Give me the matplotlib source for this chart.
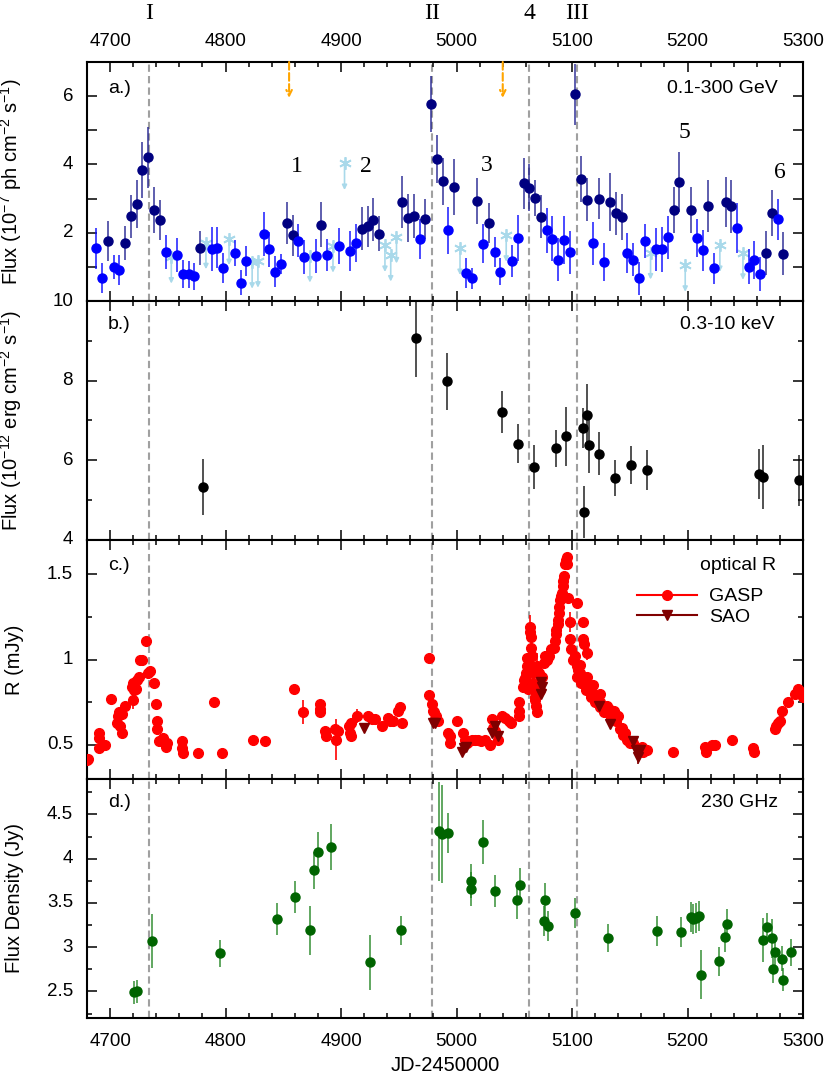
import matplotlib
matplotlib.use('Agg')
import matplotlib.pyplot as plt
from matplotlib.lines import Line2D
from matplotlib.ticker import MultipleLocator
from matplotlib.transforms import ScaledTranslation

plt.rcParams['font.family'] = ['Liberation Sans', 'DejaVu Sans']
plt.rcParams['mathtext.fontset'] = 'custom'
plt.rcParams['mathtext.rm'] = 'Liberation Sans'
plt.rcParams['mathtext.it'] = 'Liberation Sans:italic'

# --- a.) Fermi-LAT 0.1-300 GeV, 5-day bins (n = TS high, b = lower TS)
lat_t = [4688, 4693, 4698, 4703, 4708, 4713, 4718, 4723, 4728, 4733, 4738, 4743, 4748,
         4758, 4763, 4768, 4773, 4778, 4788, 4793, 4798, 4808, 4813, 4818, 4833, 4838,
         4843, 4848, 4853, 4858, 4863, 4868, 4878, 4883, 4888, 4898, 4908, 4913, 4918,
         4923, 4928, 4933, 4953, 4958, 4963, 4968, 4973, 4978, 4983, 4988, 4993, 4998,
         5008, 5013, 5018, 5023, 5028, 5033, 5038, 5048, 5053, 5058, 5063, 5068, 5073,
         5078, 5083, 5088, 5093, 5098, 5103, 5108, 5113, 5118, 5123, 5128, 5133, 5138,
         5143, 5148, 5153, 5158, 5163, 5173, 5178, 5183, 5188, 5193, 5203, 5208, 5213,
         5218, 5223, 5233, 5238, 5243, 5253, 5258, 5263, 5268, 5273, 5278, 5283, 5288]
lat_f = [1.54, 0.67, 1.75, 1.00, 0.92, 1.69, 2.48, 2.85, 3.83, 4.21, 2.66, 2.37, 1.44,
         1.35, 0.78, 0.78, 0.72, 1.56, 1.53, 1.56, 0.98, 1.40, 0.54, 1.17, 1.97, 1.51,
         0.86, 1.09, 2.28, 1.92, 1.77, 1.30, 1.33, 2.24, 1.35, 1.60, 1.46, 1.69, 2.12,
         2.19, 2.38, 1.97, 2.90, 2.43, 2.49, 1.81, 2.41, 5.77, 4.16, 3.50, 2.07, 3.35,
         0.83, 0.66, 2.93, 1.68, 2.28, 1.44, 0.86, 1.17, 1.85, 3.45, 3.32, 3.01, 2.47,
         2.07, 1.83, 1.21, 1.78, 1.43, 6.05, 3.58, 2.97, 1.69, 3.00, 1.14, 2.91, 2.57,
         2.46, 1.41, 1.21, 0.66, 1.75, 1.51, 1.51, 1.87, 2.66, 3.48, 2.66, 1.84, 1.49,
         2.78, 0.96, 2.91, 2.77, 2.15, 1.01, 1.20, 0.80, 1.40, 2.58, 2.40, 1.39, 2.41]
lat_e = [0.60, 0.44, 0.58, 0.36, 0.44, 0.50, 0.63, 0.70, 0.82, 0.90, 0.68, 0.58, 0.50,
         0.50, 0.41, 0.39, 0.39, 0.50, 0.65, 0.60, 0.44, 0.38, 0.36, 0.44, 0.65, 0.52,
         0.45, 0.30, 0.62, 0.60, 0.48, 0.50, 0.50, 0.65, 0.48, 0.53, 0.58, 0.56, 0.62,
         0.60, 0.63, 0.51, 0.75, 0.70, 0.65, 0.58, 0.58, 0.82, 0.70, 0.68, 0.68, 0.82,
         0.44, 0.30, 0.68, 0.58, 0.58, 0.44, 0.40, 0.46, 0.67, 0.75, 0.68, 0.53, 0.63,
         0.65, 0.65, 0.63, 0.70, 0.63, 0.90, 0.68, 0.63, 0.63, 0.60, 0.56, 0.85, 0.63,
         0.68, 0.58, 0.48, 0.48, 0.50, 0.63, 0.65, 0.63, 0.68, 0.87, 0.68, 0.56, 0.60,
         0.75, 0.46, 0.73, 0.78, 0.73, 0.50, 0.56, 0.50, 0.65, 0.68, 0.60, 0.63, 0.70]
lat_kind = ('bbnbbnnnnnnnb' 'bbbbnbbbbbbbb' 'bbnnbbbnbbbbn' 'nnnnnnbnnnnbn'
            'bbnbnbbbbnnnn' 'bbbbbnnnbnbnn' 'nbbbbbbbnnnbb' 'nbnnbbbbnnbn')
ul_t = [4753, 4783, 4803, 4823, 4828, 4873, 4893, 4903, 4938, 4943, 4948, 5003, 5043,
        5168, 5198, 5228, 5248]
ul_f = [1.29, 1.71, 1.83, 1.14, 1.17, 1.32, 1.61, 4.03, 1.63, 1.35, 1.88, 1.54, 1.93,
        1.41, 1.05, 1.63, 1.40]
orange_t = [4855, 5040]

# --- b.) Swift-XRT 0.3-10 keV
xrt_t = [4780.2, 4964.6, 4991.7, 5039.6, 5053.4, 5067.3, 5085.8, 5094.7, 5109.2, 5110.6,
         5112.6, 5114.6, 5123.0, 5137.1, 5151.3, 5164.8, 5261.8, 5265.6, 5296.2]
xrt_f = [5.33, 9.08, 7.98, 7.22, 6.42, 5.84, 6.30, 6.60, 6.81, 4.71,
         7.13, 6.39, 6.17, 5.56, 5.89, 5.75, 5.66, 5.59, 5.50]
xrt_e = [0.70, 1.00, 0.72, 0.53, 0.49, 0.55, 0.46, 0.75, 0.50, 0.65,
         0.78, 0.70, 0.53, 0.45, 0.48, 0.50, 0.62, 0.80, 0.64]

# --- c.) optical R band
gasp_t = [4680.3, 4681.0, 4690.6, 4690.6, 4690.8, 4695.6, 4700.8, 4706.0, 4707.0, 4708.0,
          4709.0, 4710.0, 4710.5, 4712.9, 4718.7, 4719.5, 4720.0, 4721.0, 4722.3, 4723.3,
          4725.0, 4726.0, 4728.0, 4730.8, 4733.0, 4734.5, 4738.3, 4739.5, 4740.3, 4741.0,
          4742.0, 4744.0, 4746.0, 4748.0, 4749.0, 4762.0, 4762.5, 4763.0, 4776.4, 4790.0,
          4797.2, 4823.5, 4834.1, 4859.2, 4866.7, 4881.7, 4881.7, 4881.7, 4886.3, 4887.0,
          4894.8, 4896.0, 4897.3, 4906.8, 4907.5, 4908.2, 4909.0, 4914.0, 4923.5, 4927.0,
          4929.0, 4935.1, 4941.0, 4942.3, 4945.0, 4949.5, 4951.0, 4952.4, 4976.1, 4976.1,
          4978.4, 4979.5, 4980.5, 4981.3, 4982.0, 4983.6, 4993.0, 4994.3, 4994.3, 5000.0,
          5005.6, 5007.0, 5009.0, 5011.0, 5013.0, 5016.0, 5019.0, 5021.5, 5024.5, 5028.9,
          5030.4, 5031.5, 5033.3, 5036.1, 5039.0, 5041.8, 5045.6, 5047.0, 5054.3, 5054.3,
          5054.3, 5057.7, 5058.5, 5059.5, 5060.0, 5060.7, 5061.0, 5062.0, 5063.5, 5063.8,
          5064.2, 5064.5, 5065.0, 5065.0, 5065.5, 5066.0, 5066.5, 5067.0, 5067.5, 5068.0,
          5068.5, 5069.3, 5070.0, 5071.0, 5072.5, 5074.0, 5075.5, 5077.0, 5078.5, 5080.0,
          5082.0, 5084.0, 5085.0, 5086.0, 5086.5, 5087.5, 5088.0, 5088.5, 5089.0, 5090.0,
          5090.5, 5091.0, 5092.0, 5092.5, 5093.0, 5094.0, 5094.6, 5095.8, 5095.8, 5096.6,
          5098.0, 5098.5, 5099.5, 5100.5, 5102.5, 5103.9, 5104.5, 5105.4, 5106.8, 5106.8,
          5108.2, 5109.7, 5109.7, 5110.0, 5109.7, 5111.1, 5112.6, 5112.6, 5113.2, 5115.5,
          5118.4, 5118.4, 5121.3, 5124.2, 5124.2, 5127.0, 5129.9, 5129.9, 5132.0, 5134.3,
          5136.0, 5137.2, 5139.0, 5140.1, 5141.5, 5142.9, 5144.5, 5146.0, 5148.0, 5150.1,
          5153.0, 5158.0, 5159.5, 5161.0, 5161.7, 5164.6, 5187.6, 5215.0, 5216.0, 5221.0,
          5223.6, 5238.7, 5256.9, 5257.5, 5275.7, 5277.0, 5278.5, 5280.0, 5281.4, 5287.2,
          5293.0, 5296.0, 5298.0, 5300.0,
          5104.0, 5108.0, 5112.0, 5116.0, 5120.0, 5124.0, 5128.0, 5134.0, 5138.0]
gasp_r = [0.41, 0.42, 0.54, 0.57, 0.48, 0.50, 0.77, 0.63, 0.67, 0.69,
          0.61, 0.68, 0.57, 0.73, 0.84, 0.86, 0.76, 0.82, 0.83, 0.88,
          0.90, 1.00, 1.00, 1.11, 0.92, 0.93, 0.86, 0.74, 0.64, 0.59,
          0.52, 0.52, 0.54, 0.49, 0.51, 0.52, 0.48, 0.45, 0.45, 0.75,
          0.45, 0.53, 0.52, 0.83, 0.69, 0.74, 0.71, 0.69, 0.58, 0.55,
          0.59, 0.53, 0.58, 0.61, 0.57, 0.55, 0.63, 0.67, 0.67, 0.65,
          0.65, 0.61, 0.66, 0.64, 0.64, 0.70, 0.72, 0.63, 1.01, 0.79,
          0.74, 0.70, 0.69, 0.65, 0.67, 0.64, 0.57, 0.55, 0.51, 0.64,
          0.57, 0.53, 0.51, 0.52, 0.53, 0.53, 0.53, 0.52, 0.53, 0.50,
          0.65, 0.60, 0.58, 0.53, 0.67, 0.66, 0.64, 0.63, 0.75, 0.70,
          0.67, 0.84, 0.88, 0.89, 0.92, 0.96, 1.01, 0.83, 1.19, 1.16,
          1.13, 1.07, 1.02, 0.96, 0.94, 0.92, 0.86, 0.82, 0.78, 0.76,
          0.73, 0.69, 0.96, 0.92, 0.82, 0.90, 0.98, 1.02, 1.00, 1.02,
          1.06, 1.07, 1.11, 1.15, 1.17, 1.21, 1.23, 1.27, 1.31, 1.35,
          1.37, 1.39, 1.43, 1.46, 1.49, 1.56, 1.58, 1.60, 1.56, 1.36,
          1.22, 1.12, 1.06, 1.00, 1.02, 0.96, 1.33, 0.94, 0.97, 0.92,
          0.90, 1.22, 1.12, 1.09, 0.88, 0.86, 0.90, 0.84, 1.04, 0.83,
          0.85, 0.80, 0.78, 0.80, 0.75, 0.72, 0.73, 0.70, 0.71, 0.69,
          0.70, 0.68, 0.67, 0.67, 0.59, 0.60, 0.56, 0.57, 0.53, 0.51,
          0.51, 0.48, 0.47, 0.49, 0.46, 0.47, 0.46, 0.49, 0.46, 0.50,
          0.50, 0.53, 0.48, 0.46, 0.59, 0.61, 0.63, 0.64, 0.70, 0.75,
          0.80, 0.83, 0.81, 0.78,
          0.90, 0.86, 0.82, 0.78, 0.75, 0.72, 0.69, 0.66, 0.64]
gasp_e = [0.01, 0.01, 0.01, 0.01, 0.01, 0.01, 0.01, 0.02, 0.02, 0.02,
          0.02, 0.02, 0.02, 0.02, 0.02, 0.02, 0.05, 0.02, 0.02, 0.02,
          0.02, 0.01, 0.01, 0.01, 0.01, 0.01, 0.01, 0.01, 0.01, 0.01,
          0.01, 0.01, 0.01, 0.01, 0.01, 0.02, 0.01, 0.01, 0.01, 0.01,
          0.01, 0.01, 0.01, 0.01, 0.07, 0.01, 0.01, 0.01, 0.01, 0.01,
          0.01, 0.12, 0.01, 0.02, 0.02, 0.02, 0.02, 0.04, 0.01, 0.01,
          0.01, 0.01, 0.01, 0.01, 0.01, 0.01, 0.02, 0.01, 0.01, 0.02,
          0.01, 0.01, 0.01, 0.01, 0.01, 0.01, 0.01, 0.01, 0.01, 0.01,
          0.01, 0.01, 0.01, 0.01, 0.01, 0.01, 0.01, 0.01, 0.01, 0.01,
          0.02, 0.01, 0.01, 0.01, 0.03, 0.01, 0.01, 0.01, 0.01, 0.01,
          0.01, 0.02, 0.02, 0.02, 0.02, 0.02, 0.02, 0.02, 0.07, 0.02,
          0.02, 0.02, 0.02, 0.02, 0.03, 0.03, 0.03, 0.03, 0.03, 0.03,
          0.03, 0.03, 0.08, 0.03, 0.05, 0.03, 0.03, 0.03, 0.03, 0.03,
          0.02, 0.02, 0.02, 0.02, 0.02, 0.02, 0.02, 0.02, 0.02, 0.02,
          0.02, 0.02, 0.02, 0.02, 0.02, 0.01, 0.01, 0.01, 0.01, 0.02,
          0.06, 0.02, 0.02, 0.02, 0.02, 0.02, 0.01, 0.02, 0.02, 0.02,
          0.02, 0.02, 0.02, 0.02, 0.02, 0.02, 0.02, 0.02, 0.04, 0.02,
          0.02, 0.02, 0.02, 0.02, 0.02, 0.02, 0.02, 0.02, 0.02, 0.02,
          0.02, 0.02, 0.02, 0.02, 0.02, 0.01, 0.01, 0.01, 0.01, 0.01,
          0.01, 0.01, 0.01, 0.01, 0.01, 0.01, 0.01, 0.01, 0.01, 0.01,
          0.01, 0.01, 0.01, 0.01, 0.01, 0.01, 0.01, 0.01, 0.01, 0.01,
          0.01, 0.01, 0.01, 0.01,
          0.02, 0.02, 0.02, 0.02, 0.02, 0.02, 0.02, 0.02, 0.02]
sao_t = [4919.8, 4979.3, 4981.0, 5005.0, 5006.5, 5008.0, 5031.0, 5033.5, 5036.0, 5073.1,
         5073.6, 5073.1, 5123.3, 5132.5, 5153.0, 5155.0, 5157.3, 5158.8]
sao_r = [0.60, 0.63, 0.63, 0.46, 0.48, 0.49, 0.57, 0.61, 0.55, 0.87,
         0.84, 0.80, 0.73, 0.62, 0.52, 0.47, 0.43, 0.47]
sao_e = [0.02, 0.01, 0.01, 0.01, 0.01, 0.01, 0.01, 0.01, 0.01, 0.02,
         0.02, 0.02, 0.01, 0.01, 0.01, 0.01, 0.04, 0.01]

# --- d.) SMA 230 GHz
sma_t = [4720.7, 4723.0, 4736.6, 4795.2, 4844.8, 4860.1, 4873.1, 4876.8, 4880.3, 4891.0,
         4925.0, 4951.6, 4984.8, 4987.1, 4992.8, 5012.7, 5012.7, 5023.1, 5032.9, 5052.6,
         5054.9, 5076.0, 5076.8, 5078.9, 5102.8, 5130.8, 5173.5, 5194.6, 5202.9, 5204.9,
         5207.3, 5209.9, 5211.6, 5227.5, 5232.4, 5233.8, 5265.6, 5268.8, 5273.4, 5274.3,
         5275.7, 5281.5, 5282.7, 5289.9]
sma_f = [2.49, 2.50, 3.07, 2.93, 3.32, 3.57, 3.19, 3.87, 4.08, 4.13,
         2.83, 3.19, 4.31, 4.28, 4.29, 3.75, 3.66, 4.19, 3.63, 3.53,
         3.70, 3.30, 3.53, 3.24, 3.39, 3.10, 3.18, 3.17, 3.34, 3.32,
         3.33, 3.35, 2.69, 2.84, 3.12, 3.26, 3.08, 3.23, 3.10, 2.75,
         2.94, 2.87, 2.63, 2.94]
sma_e = [0.13, 0.13, 0.31, 0.15, 0.18, 0.18, 0.28, 0.21, 0.22, 0.26,
         0.31, 0.16, 0.56, 0.55, 0.23, 0.19, 0.19, 0.25, 0.18, 0.21,
         0.19, 0.17, 0.20, 0.17, 0.17, 0.16, 0.17, 0.17, 0.17, 0.17,
         0.17, 0.17, 0.28, 0.16, 0.18, 0.17, 0.25, 0.16, 0.22, 0.15,
         0.18, 0.14, 0.13, 0.15]

event_t = [4733.7, 4978.7, 5062.7, 5104.2]
event_lbl = ['I', 'II', '4', 'III']
flare_lbl = ['1', '2', '3', '5', '6']
flare_t = [4861.6, 4921.3, 5026.0, 5197.0, 5280.0]
flare_y = [3.94, 3.94, 3.98, 4.94, 3.77]

fig = plt.figure(figsize=(8.3, 10.8), dpi=100)
W, H = 830.0, 1080.0
rows = [(62, 301), (301, 540), (540, 779), (779, 1018)]
axs = [fig.add_axes([87 / W, 1 - b / H, 716 / W, (b - t) / H]) for t, b in rows]

def label_y(ax, vals, texts):
    tr = ax.get_yaxis_transform() + ScaledTranslation(-0.14, 0, fig.dpi_scale_trans)
    for v, s in zip(vals, texts):
        ax.text(0, v, s, transform=tr, ha='right', va='center', fontsize=13.5)

for ax in axs:
    ax.set_xlim(4680, 5300)
    ax.xaxis.set_major_locator(MultipleLocator(100))
    ax.xaxis.set_minor_locator(MultipleLocator(20))
    ax.tick_params(which='both', direction='in', top=True, right=True, width=1.1,
                   labelleft=False, labelbottom=False, labelsize=13.5)
    ax.tick_params(which='major', length=7.5)
    ax.tick_params(which='minor', length=3.8)
    for s in ax.spines.values():
        s.set_linewidth(1.5)
    for t in event_t:
        ax.axvline(t, color='#a0a0a0', lw=1.5, ls=(0, (3.5, 2)), zorder=0)
    ax.yaxis.set_label_coords(-0.088, 0.5)

# a.)
ax = axs[0]
ax.set_ylim(0, 7)
ax.yaxis.set_major_locator(MultipleLocator(2))
ax.yaxis.set_minor_locator(MultipleLocator(1))
ax.tick_params(which='minor', axis='y', length=7.5)
ax.tick_params(axis='x', labeltop=True, pad=9)
for kind, col, ecol in (('n', '#000080', (0.1, 0.1, 0.55, 0.7)),
                        ('b', '#0000ff', (0.05, 0.05, 1.0, 0.75))):
    idx = [i for i, k in enumerate(lat_kind) if k == kind]
    ax.errorbar([lat_t[i] for i in idx], [lat_f[i] for i in idx],
                yerr=[lat_e[i] for i in idx], fmt='o', ms=6.5, color=col,
                ecolor=ecol, elinewidth=1.4, capsize=0, zorder=3)
for t, f in zip(ul_t, ul_f):
    ax.annotate('', xy=(t, f - 0.78), xytext=(t, f),
                arrowprops=dict(arrowstyle='-|>', color='#a9d9ea', lw=1.2,
                                mutation_scale=7, shrinkA=0, shrinkB=0))
ax.plot(ul_t, ul_f, ls='none', marker=(6, 2, 0), ms=9, mew=1.3, color='#a9d9ea', zorder=2)
for t in orange_t:
    ax.annotate('', xy=(t, 5.95), xytext=(t, 7.0), annotation_clip=False,
                arrowprops=dict(arrowstyle='->', color='#ffa500', lw=1.5, ls='--',
                                mutation_scale=10, shrinkA=0, shrinkB=0))
for s, t, y in zip(flare_lbl, flare_t, flare_y):
    ax.text(t, y, s, ha='center', va='center', fontsize=17, family='Liberation Serif')
for s, t in zip(event_lbl, event_t):
    ax.text(t, 1.205, s, transform=ax.get_xaxis_transform(), ha='center', va='center',
            fontsize=17, family='Liberation Serif')
# the 0 of this panel coincides with the "10" of panel b
label_y(ax, [2, 4, 6], ['2', '4', '6'])
ax.set_ylabel('Flux (10$^{-7}$ ph cm$^{-2}$ s$^{-1}$)', fontsize=14.5)
ax.text(0.029, 0.891, 'a.)', transform=ax.transAxes, ha='left', va='center', fontsize=14)
ax.text(0.965, 0.891, '0.1-300 GeV', transform=ax.transAxes, ha='right', va='center', fontsize=14)

# b.)
ax = axs[1]
ax.set_ylim(4, 10)
ax.yaxis.set_major_locator(MultipleLocator(2))
ax.yaxis.set_minor_locator(MultipleLocator(1))
ax.errorbar(xrt_t, xrt_f, yerr=xrt_e, fmt='o', ms=6.5, color='black',
            ecolor=(0, 0, 0, 0.8), elinewidth=1.2, capsize=0, zorder=3)
label_y(ax, [4, 6, 8, 10], ['4', '6', '8', '10'])
ax.set_ylabel('Flux (10$^{-12}$ erg cm$^{-2}$ s$^{-1}$)', fontsize=14.5)
ax.text(0.029, 0.9, 'b.)', transform=ax.transAxes, ha='left', va='center', fontsize=14)
ax.text(0.96, 0.9, '0.3-10 keV', transform=ax.transAxes, ha='right', va='center', fontsize=14)

# c.)
ax = axs[2]
ax.set_ylim(0.3, 1.7)
ax.yaxis.set_major_locator(MultipleLocator(0.5))
ax.yaxis.set_minor_locator(MultipleLocator(0.25))
ax.errorbar(gasp_t, gasp_r, yerr=gasp_e, fmt='o', ms=7, color='#ff0000',
            ecolor='#ff0000', elinewidth=1.2, capsize=0, zorder=3)
ax.errorbar(sao_t, sao_r, yerr=sao_e, fmt='v', ms=7, color='#800000',
            ecolor='#800000', elinewidth=1.2, capsize=0, zorder=4)
label_y(ax, [0.5, 1.0, 1.5], ['0.5', '1', '1.5'])
ax.set_ylabel('R (mJy)', fontsize=14.5)
ax.text(0.029, 0.895, 'c.)', transform=ax.transAxes, ha='left', va='center', fontsize=14)
ax.text(0.963, 0.895, 'optical R', transform=ax.transAxes, ha='right', va='center', fontsize=14)
handles = [Line2D([], [], color='#ff0000', marker='o', ms=7, lw=1.5),
           Line2D([], [], color='#800000', marker='v', ms=7, lw=1.5)]
ax.legend(handles, ['GASP', 'SAO'], frameon=False, loc='upper left',
          bbox_to_anchor=(0.768, 0.80), borderaxespad=0, borderpad=0,
          handlelength=3.1, handletextpad=0.6, labelspacing=0.15, fontsize=14)

# d.)
ax = axs[3]
ax.set_ylim(2.2, 4.9)
ax.yaxis.set_major_locator(MultipleLocator(0.5))
ax.yaxis.set_minor_locator(MultipleLocator(0.25))
ax.tick_params(axis='x', labelbottom=True, pad=11)
ax.errorbar(sma_t, sma_f, yerr=sma_e, fmt='o', ms=6.5, color='#006400',
            ecolor=(0.1, 0.5, 0.1, 0.75), elinewidth=1.3, capsize=0, zorder=3)
label_y(ax, [2.5, 3.0, 3.5, 4.0, 4.5], ['2.5', '3', '3.5', '4', '4.5'])
ax.set_ylabel('Flux Density (Jy)', fontsize=14.5)
ax.set_xlabel('JD-2450000', fontsize=14.5)
ax.text(0.029, 0.90, 'd.)', transform=ax.transAxes, ha='left', va='center', fontsize=14)
ax.text(0.965, 0.90, '230 GHz', transform=ax.transAxes, ha='right', va='center', fontsize=14)

fig.savefig('out.png', dpi=100)
